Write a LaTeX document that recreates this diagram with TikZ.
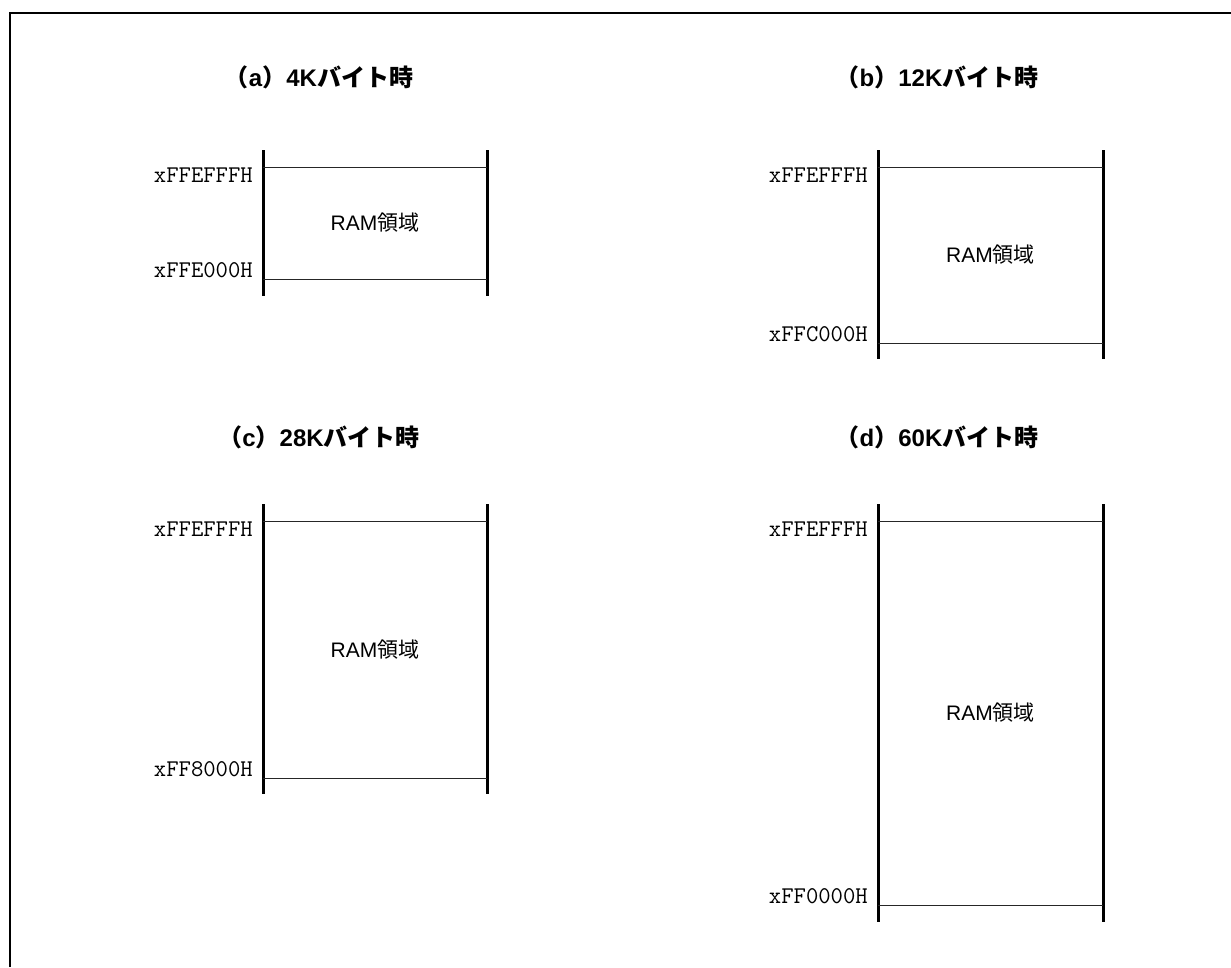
\documentclass[tikz,border=0pt]{standalone}
\usepackage{fontspec}
\setmainfont{Liberation Sans}
\newfontfamily\jpfont{Noto Sans CJK JP}
\newfontfamily\jpbold{Noto Sans CJK JP}[UprightFont=* Bold]
\begin{document}
\begin{tikzpicture}[x=1pt,y=-1pt,
  frameline/.style={line width=2pt},
  wall/.style={line width=3pt},
  bound/.style={line width=1pt,draw=black!85},
  addr/.style={anchor=base east,inner sep=0pt,font=\ttfamily\fontsize{24}{24}\selectfont},
  area/.style={inner sep=0pt,font=\fontsize{21}{21}\selectfont},
  ttl/.style={inner sep=0pt,font=\bfseries\fontsize{24}{24}\selectfont}]
\useasboundingbox (0,0) rectangle (1231,967);
\draw[frameline] (9.5,967) -- (9.5,12.5) -- (1231,12.5);
% (a)
\node[ttl] (ta) at (319,77) {{\jpbold（}a{\jpbold）}4K{\jpbold バイト時}};
\draw[wall] (263,150) -- (263,296);
\draw[wall] (487,150) -- (487,296);
\coordinate (a1l) at (263,167); \coordinate (a1r) at (487,167);
\coordinate (a2l) at (263,279); \coordinate (a2r) at (487,279);
\draw[bound] (a1l) -- (a1r);
\draw[bound] (a2l) -- (a2r);
\node[addr] (la1) at (253,182) {xFFEFFFH};
\node[addr] (la2) at (253,277) {xFFE000H};
\node[area] (ra) at (375,223) {RAM{\jpfont 領域}};
% (b)
\node[ttl] (tb) at (937,77) {{\jpbold（}b{\jpbold）}12K{\jpbold バイト時}};
\draw[wall] (878,150) -- (878,359);
\draw[wall] (1103,150) -- (1103,359);
\coordinate (b1l) at (878,167); \coordinate (b1r) at (1103,167);
\coordinate (b2l) at (878,343); \coordinate (b2r) at (1103,343);
\draw[bound] (b1l) -- (b1r);
\draw[bound] (b2l) -- (b2r);
\node[addr] (lb1) at (868,182) {xFFEFFFH};
\node[addr] (lb2) at (868,341) {xFFC000H};
\node[area] (rb) at (990.5,255) {RAM{\jpfont 領域}};
% (c)
\node[ttl] (tc) at (319,437) {{\jpbold（}c{\jpbold）}28K{\jpbold バイト時}};
\draw[wall] (263,504) -- (263,794);
\draw[wall] (487,504) -- (487,794);
\coordinate (c1l) at (263,521); \coordinate (c1r) at (487,521);
\coordinate (c2l) at (263,778); \coordinate (c2r) at (487,778);
\draw[bound] (c1l) -- (c1r);
\draw[bound] (c2l) -- (c2r);
\node[addr] (lc1) at (253,536) {xFFEFFFH};
\node[addr] (lc2) at (253,776) {xFF8000H};
\node[area] (rc) at (375,649.5) {RAM{\jpfont 領域}};
% (d)
\node[ttl] (td) at (937,437) {{\jpbold（}d{\jpbold）}60K{\jpbold バイト時}};
\draw[wall] (878,504) -- (878,922);
\draw[wall] (1103,504) -- (1103,922);
\coordinate (d1l) at (878,521); \coordinate (d1r) at (1103,521);
\coordinate (d2l) at (878,905); \coordinate (d2r) at (1103,905);
\draw[bound] (d1l) -- (d1r);
\draw[bound] (d2l) -- (d2r);
\node[addr] (ld1) at (868,536) {xFFEFFFH};
\node[addr] (ld2) at (868,903) {xFF0000H};
\node[area] (rd) at (990.5,713) {RAM{\jpfont 領域}};
\end{tikzpicture}
\end{document}
